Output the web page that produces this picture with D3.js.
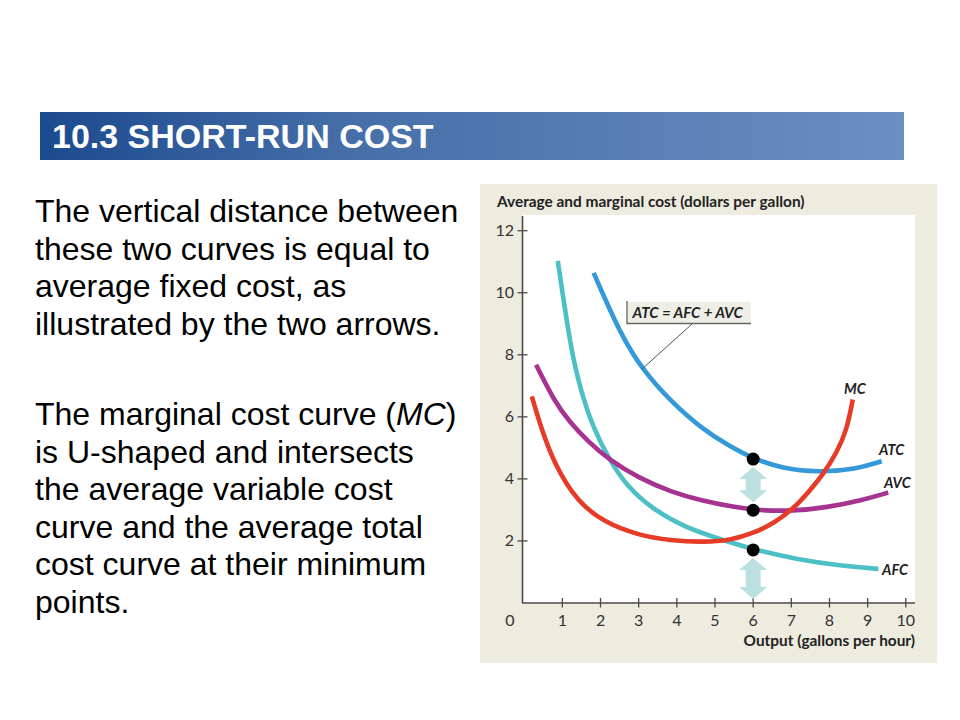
<!DOCTYPE html>
<html>
<head>
<meta charset="utf-8">
<script src="https://cdn.jsdelivr.net/npm/d3@7"></script>
<style>
  body { margin: 0; background: #fff; }
  svg { display: block; }
</style>
</head>
<body>
<svg id="slide" width="960" height="720"></svg>

<script>
  // data: [output, dollars per gallon]
  var afcPoints = [[0.88, 11.03], [1.23, 8.10], [1.49, 6.82], [1.79, 5.70], [2.23, 4.61],
    [2.71, 3.73], [3.40, 2.99], [4.27, 2.41], [5.06, 2.09], [6.03, 1.71], [7.23, 1.39],
    [8.28, 1.20], [9.28, 1.10]];
  var avcPoints = [[0.31, 7.68], [0.79, 6.50], [1.20, 5.82], [1.66, 5.22], [2.23, 4.61],
    [2.97, 4.05], [3.84, 3.58], [4.71, 3.28], [5.40, 3.12], [6.03, 2.99], [7.06, 2.96],
    [7.93, 3.08], [8.85, 3.31], [9.54, 3.56]];
  var atcPoints = [[1.82, 10.64], [2.53, 8.64], [3.10, 7.52], [3.84, 6.50], [4.62, 5.65],
    [5.36, 5.07], [6.03, 4.64], [6.75, 4.34], [7.70, 4.21], [8.70, 4.31], [9.37, 4.57]];
  var mcPoints = [[0.20, 6.66], [0.44, 5.65], [0.80, 4.45], [1.40, 3.25], [2.10, 2.60],
    [2.97, 2.19], [3.84, 2.01], [4.71, 1.96], [5.40, 2.02], [6.01, 2.25], [6.54, 2.57],
    [7.06, 3.04], [7.49, 3.63], [7.84, 4.16], [8.19, 4.85], [8.45, 5.55], [8.61, 6.56]];

  var dotOutput = 6;
  var dotValues = [4.64, 2.99, 1.71];   // ATC, AVC, AFC at 6 gallons

  var xTicks = [0, 1, 2, 3, 4, 5, 6, 7, 8, 9, 10];
  var yTicks = [2, 4, 6, 8, 10, 12];

  var titleText = "10.3 SHORT-RUN COST";
  var para1 = ["The vertical distance between", "these two curves is equal to",
    "average fixed cost, as", "illustrated by the two arrows."];
  var para2 = ["The marginal cost curve (|MC|)", "is U-shaped and intersects",
    "the average variable cost", "curve and the average total",
    "cost curve at their minimum", "points."];

  // parameters
  var colors = { afc: "#4cc0c4", avc: "#a6338f", atc: "#3499d8", mc: "#e63b27" };
  var arrowColor = "#bcdfdf";
  var axisColor = "#4a4a4a";
  var chartFont = "Lato, 'Open Sans', sans-serif";

  var svg = d3.select("#slide");

  // title bar
  var grad = svg.append("defs").append("linearGradient").attr("id", "bar");
  grad.append("stop").attr("offset", "0%").attr("stop-color", "#1b4a8f");
  grad.append("stop").attr("offset", "35%").attr("stop-color", "#456ea8");
  grad.append("stop").attr("offset", "100%").attr("stop-color", "#6b8fc1");

  svg.append("rect").attr("x", 40).attr("y", 112).attr("width", 864).attr("height", 48)
    .attr("fill", "url(#bar)");
  svg.append("text").attr("x", 52).attr("y", 148)
    .style("font-family", "Arial, 'Liberation Sans', sans-serif")
    .style("font-weight", "bold").style("font-size", "34px")
    .attr("fill", "#fff").text(titleText);

  // left text
  function writeLines(lines, top) {
    lines.forEach(function(line, i) {
      var t = svg.append("text").attr("x", 35).attr("y", top + i * 37.5)
        .style("font-family", "Arial, 'Liberation Sans', sans-serif")
        .style("font-size", "32px").attr("fill", "#000");
      line.split("|").forEach(function(part, j) {
        t.append("tspan").style("font-style", j % 2 ? "italic" : "normal").text(part);
      });
    });
  }
  writeLines(para1, 222);
  writeLines(para2, 425);

  // chart panel
  svg.append("rect").attr("x", 480).attr("y", 184).attr("width", 457).attr("height", 479)
    .attr("fill", "#eeebdf");
  svg.append("rect").attr("x", 522).attr("y", 215).attr("width", 393).attr("height", 388)
    .attr("fill", "#fff");

  var x = d3.scaleLinear().domain([0, 10]).range([524.2, 905.8]);
  var y = d3.scaleLinear().domain([0, 12]).range([603, 230.7]);

  var g = svg.append("g").style("font-family", chartFont);

  // axes
  g.append("line").attr("x1", 522.5).attr("x2", 522.5).attr("y1", 216).attr("y2", 603)
    .attr("stroke", axisColor).attr("stroke-width", 1.6);
  g.append("line").attr("x1", 522).attr("x2", 915).attr("y1", 603).attr("y2", 603)
    .attr("stroke", axisColor).attr("stroke-width", 1.6);

  g.selectAll(".ytick").data(yTicks).enter().append("line")
    .attr("x1", 517.5).attr("x2", 527.5)
    .attr("y1", function(d) { return y(d); }).attr("y2", function(d) { return y(d); })
    .attr("stroke", axisColor).attr("stroke-width", 1.3);
  g.selectAll(".ylab").data(yTicks).enter().append("text")
    .attr("x", 514).attr("y", function(d) { return y(d) + 5.5; })
    .attr("text-anchor", "end").style("font-size", "16px").attr("fill", "#333")
    .text(function(d) { return d; });

  g.selectAll(".xtick").data(xTicks.slice(1)).enter().append("line")
    .attr("x1", function(d) { return x(d); }).attr("x2", function(d) { return x(d); })
    .attr("y1", 598).attr("y2", 607.5)
    .attr("stroke", axisColor).attr("stroke-width", 1.3);
  g.selectAll(".xlab").data(xTicks).enter().append("text")
    .attr("x", function(d) { return d === 0 ? 510 : x(d); }).attr("y", 626)
    .attr("text-anchor", "middle").style("font-size", "16px").attr("fill", "#333")
    .text(function(d) { return d; });

  g.append("text").attr("x", 497).attr("y", 206.5)
    .style("font-size", "15.4px").style("font-weight", "bold").attr("fill", "#222")
    .text("Average and marginal cost (dollars per gallon)");
  g.append("text").attr("x", 915).attr("y", 646).attr("text-anchor", "end")
    .style("font-size", "15.4px").style("font-weight", "bold").attr("fill", "#222")
    .text("Output (gallons per hour)");

  // curves
  var line = d3.line()
    .x(function(d) { return x(d[0]); })
    .y(function(d) { return y(d[1]); })
    .curve(d3.curveBasis);

  var curves = [
    { pts: afcPoints, color: colors.afc },
    { pts: avcPoints, color: colors.avc },
    { pts: atcPoints, color: colors.atc },
    { pts: mcPoints, color: colors.mc }
  ];
  g.selectAll(".curve").data(curves).enter().append("path")
    .attr("d", function(d) { return line(d.pts); })
    .attr("fill", "none")
    .attr("stroke", function(d) { return d.color; })
    .attr("stroke-width", 4.6)
    .attr("stroke-linecap", "butt");

  // curve labels
  var labels = [
    { text: "MC", x: 844, y: 394 },
    { text: "ATC", x: 879, y: 455 },
    { text: "AVC", x: 884, y: 488 },
    { text: "AFC", x: 882, y: 575 }
  ];
  g.selectAll(".clab").data(labels).enter().append("text")
    .attr("x", function(d) { return d.x; }).attr("y", function(d) { return d.y; })
    .style("font-size", "14.5px").style("font-weight", "bold").style("font-style", "italic")
    .attr("fill", "#222").text(function(d) { return d.text; });

  // ATC = AFC + AVC callout
  g.append("line").attr("x1", 692).attr("y1", 324).attr("x2", 642).attr("y2", 369)
    .attr("stroke", "#555").attr("stroke-width", 1);
  g.append("rect").attr("x", 627).attr("y", 302).attr("width", 124).attr("height", 21.5)
    .attr("fill", "#efeee6");
  g.append("path").attr("d", "M627,301V323.5H751")
    .attr("fill", "none").attr("stroke", "#666").attr("stroke-width", 1.3);
  g.append("text").attr("x", 632.5).attr("y", 318)
    .style("font-size", "15px").style("font-weight", "bold").style("font-style", "italic")
    .attr("fill", "#222").text("ATC = AFC + AVC");

  // double arrows (average fixed cost distance)
  function arrowPath(cx, y1, y2) {
    var sw = 7.5, hw = 14, hl = 12;
    return "M" + cx + "," + y1 +
      "L" + (cx + hw) + "," + (y1 + hl) + "L" + (cx + sw) + "," + (y1 + hl) +
      "L" + (cx + sw) + "," + (y2 - hl) + "L" + (cx + hw) + "," + (y2 - hl) +
      "L" + cx + "," + y2 +
      "L" + (cx - hw) + "," + (y2 - hl) + "L" + (cx - sw) + "," + (y2 - hl) +
      "L" + (cx - sw) + "," + (y1 + hl) + "L" + (cx - hw) + "," + (y1 + hl) + "Z";
  }
  var arrows = [
    [y(dotValues[0]) + 8, y(dotValues[1]) - 8],
    [y(dotValues[2]) + 8, y(0) - 4]
  ];
  g.selectAll(".arrow").data(arrows).enter().append("path")
    .attr("d", function(d) { return arrowPath(x(dotOutput), d[0], d[1]); })
    .attr("fill", arrowColor);

  // dots
  g.selectAll(".dot").data(dotValues).enter().append("circle")
    .attr("cx", x(dotOutput))
    .attr("cy", function(d) { return y(d); })
    .attr("r", 6.5)
    .attr("fill", "#000");
</script>
</body>
</html>
